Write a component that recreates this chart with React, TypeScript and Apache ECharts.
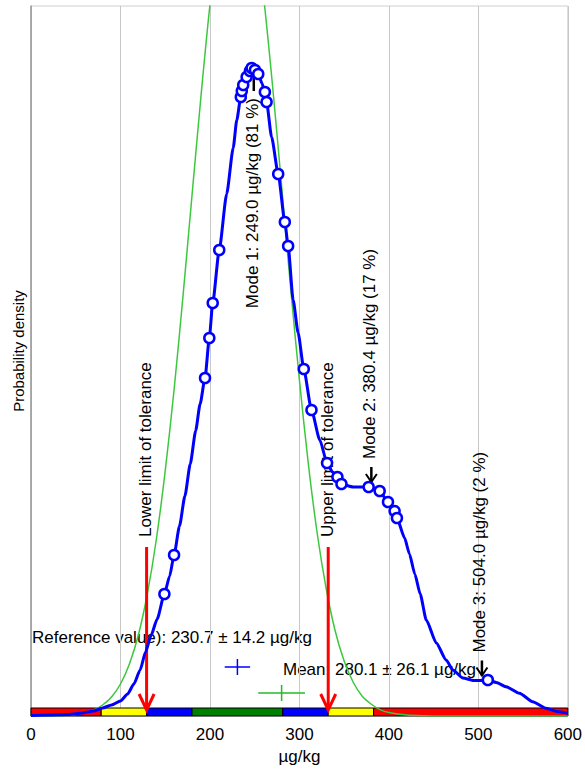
import React, { useEffect, useRef } from "react";
import * as echarts from "echarts";

// ---------- data ----------
const X_MIN = 0;
const X_MAX = 600;
const X_INTERVAL = 100;
const Y_MAX = 7.1; // probability density (arbitrary units, x10^-3)

// kernel density (blue)
const KDE_CURVE: [number, number][] = [
  [0, 0.005], [20, 0.01], [40, 0.015], [55, 0.027], [70, 0.05], [80, 0.08], [90, 0.11],
  [100, 0.15], [108, 0.22], [115, 0.32], [122, 0.46], [128, 0.64], [134, 0.8], [141, 0.97],
  [149.1, 1.22], [155, 1.4], [159.9, 1.61], [166, 1.9], [172, 2.2], [178, 2.52], [184, 2.85],
  [189, 3.12], [194.5, 3.38], [199.3, 3.78], [203.1, 4.13], [210.4, 4.66], [218.7, 5.22],
  [226, 5.68], [230, 5.96], [234.5, 6.19], [235.6, 6.25], [237.2, 6.31], [241, 6.39],
  [244.7, 6.45], [246.6, 6.48], [249, 6.49], [250.3, 6.46], [254, 6.42], [258, 6.33],
  [261.4, 6.24], [263.3, 6.14], [268.9, 5.79], [276.3, 5.42], [283.7, 4.94], [287.4, 4.7],
  [293, 4.16], [298.6, 3.83], [304.9, 3.47], [313.5, 3.06], [322.8, 2.76], [330.9, 2.53],
  [337, 2.44], [342.5, 2.39], [347, 2.32], [360, 2.29], [377.4, 2.29], [389.7, 2.25],
  [399, 2.14], [406.4, 2.05], [409, 1.98], [417.6, 1.78], [423, 1.62], [429, 1.42],
  [435, 1.22], [441.8, 0.96], [453, 0.73], [464, 0.56], [471.5, 0.46], [482.7, 0.38],
  [495, 0.355], [501.3, 0.355], [510.6, 0.36], [520, 0.335], [531, 0.293], [546, 0.227],
  [560.8, 0.143], [575.7, 0.077], [588, 0.045], [600, 0.027],
];

// participants' results (circles on the density curve)
const RESULT_X = [
  149.1, 159.9, 194.5, 199.3, 203.1, 210.4, 234.5, 235.6, 237.2, 241, 244.7, 246.6, 250.3,
  254, 261.4, 263.3, 276.3, 283.7, 287.4, 304.9, 313.5, 330.9, 342.5, 347, 377.4, 389.7,
  399, 406.4, 409, 510.6,
];
const RESULT_Y = [
  1.22, 1.61, 3.38, 3.78, 4.13, 4.66, 6.19, 6.25, 6.31, 6.39, 6.45, 6.48, 6.46,
  6.42, 6.24, 6.14, 5.42, 4.94, 4.7, 3.47, 3.06, 2.53, 2.39, 2.32, 2.29, 2.25,
  2.14, 2.05, 1.98, 0.36,
];

// normal distribution around the reference value (green)
const NORMAL_CURVE: [number, number][] = [
  [0, 0], [20, 0.002], [40, 0.008], [50, 0.016], [60, 0.032], [70, 0.06], [80, 0.11],
  [90, 0.19], [100, 0.32], [110, 0.52], [120, 0.81], [130, 1.22], [140, 1.76], [150, 2.45],
  [160, 3.27], [170, 4.21], [180, 5.21], [190, 6.2], [200, 7.11], [210, 7.84], [220, 8.32],
  [230, 8.5], [240, 8.35], [250, 7.9], [260, 7.19], [270, 6.3], [280, 5.31], [290, 4.3],
  [300, 3.36], [310, 2.52], [320, 1.82], [330, 1.27], [340, 0.85], [350, 0.55], [360, 0.34],
  [370, 0.2], [380, 0.12], [390, 0.064], [400, 0.034], [420, 0.009], [440, 0.002],
  [460, 0], [600, 0],
];

// z-score zones
const ZONE_START = [0, 78.45, 129.2, 179.95, 281.45, 332.2, 382.95];
const ZONE_END = [78.45, 129.2, 179.95, 281.45, 332.2, 382.95, 600];
const ZONE_COLOR = ["#ff0000", "#ffff00", "#0000ff", "#008000", "#0000ff", "#ffff00", "#ff0000"];

// tolerance limits
const TOL_VALUES = [129.2, 332.2];
const TOL_LABELS = ["Lower limit of tolerance", "Upper limit of tolerance"];

// modes
const MODE_VALUES = [249.0, 380.4, 504.0];
const MODE_LEVELS = [6.49, 2.29, 0.355];
const MODE_LABELS = [
  "Mode 1: 249.0 µg/kg (81 %)",
  "Mode 2: 380.4 µg/kg (17 %)",
  "Mode 3: 504.0 µg/kg (2 %)",
];
const MODE_BELOW = [1, 0, 0];

// reference value and mean with uncertainties
const CROSS_CENTER = [230.7, 280.1];
const CROSS_ERR = [14.2, 26.1];
const CROSS_LEVEL = [0.49, 0.23];
const CROSS_COLOR = ["#0000ff", "#22bb22"];

const REF_TEXT = "Reference value): 230.7 ± 14.2 µg/kg";
const MEAN_TEXT = "Mean: 280.1 ± 26.1 µg/kg";
const Y_TITLE = "Probability density";
const X_TITLE = "µg/kg";

const FONT = "'Liberation Sans', Arial, sans-serif";

export default function App() {
  const ref = useRef<HTMLDivElement>(null);

  useEffect(() => {
    if (!ref.current) return;
    const chart = echarts.init(ref.current, undefined, { renderer: "svg" });

    const option: any = {
      animation: false,
      backgroundColor: "#ffffff",
      textStyle: { fontFamily: FONT },
      grid: {
        left: 31,
        right: 17,
        top: 6,
        bottom: 57,
        show: true,
        borderColor: "#cfcfcf",
        borderWidth: 1,
        containLabel: false,
      },
      xAxis: {
        type: "value",
        min: X_MIN,
        max: X_MAX,
        interval: X_INTERVAL,
        axisLine: { show: false },
        axisTick: { show: false },
        axisLabel: { color: "#000", fontSize: 17, margin: 10, fontFamily: FONT },
        splitLine: { show: true, lineStyle: { color: "#c8c8c8", width: 1 } },
        name: X_TITLE,
        nameLocation: "middle",
        nameGap: 30,
        nameTextStyle: { color: "#000", fontSize: 17, fontFamily: FONT },
      },
      yAxis: {
        type: "value",
        min: 0,
        max: Y_MAX,
        axisLine: { show: true, lineStyle: { color: "#9a9a9a", width: 1.5 } },
        axisTick: { show: false },
        axisLabel: { show: false },
        splitLine: { show: false },
      },
      graphic: [
        {
          type: "text",
          x: 18,
          y: 351,
          rotation: Math.PI / 2,
          z: 0,
          style: {
            text: Y_TITLE,
            fill: "#000",
            font: `15px ${FONT}`,
            align: "center",
            verticalAlign: "middle",
          },
        },
        {
          type: "text",
          x: 32,
          y: 637,
          z: 0,
          style: {
            text: REF_TEXT,
            fill: "#000",
            font: `17px ${FONT}`,
            align: "left",
            verticalAlign: "middle",
          },
        },
        {
          type: "text",
          x: 283,
          y: 669,
          z: 0,
          style: {
            text: MEAN_TEXT,
            fill: "#000",
            font: `17px ${FONT}`,
            align: "left",
            verticalAlign: "middle",
          },
        },
      ],
      series: [
        {
          name: "zones",
          type: "custom",
          z: 1,
          data: ZONE_START.map((s, i) => [s, ZONE_END[i], i]),
          encode: { x: [0, 1] },
          renderItem: (_p: any, api: any) => {
            const a = api.coord([api.value(0), 0]);
            const b = api.coord([api.value(1), 0]);
            return {
              type: "rect",
              shape: { x: a[0], y: a[1] - 8, width: b[0] - a[0], height: 8 },
              style: { fill: ZONE_COLOR[api.value(2)], stroke: "#000", lineWidth: 1 },
            };
          },
        },
        {
          name: "normal",
          type: "line",
          z: 2,
          data: NORMAL_CURVE,
          showSymbol: false,
          smooth: 0.3,
          lineStyle: { color: "#3cc83c", width: 1.5 },
        },
        {
          name: "tolerance",
          type: "custom",
          z: 3,
          data: TOL_VALUES.map((v, i) => [v, i]),
          encode: { x: 0 },
          renderItem: (_p: any, api: any) => {
            const p = api.coord([api.value(0), 0]);
            const x = p[0];
            const tip = p[1] - 6;
            const top = tip - 163;
            return {
              type: "group",
              children: [
                {
                  type: "line",
                  shape: { x1: x, y1: top, x2: x, y2: tip - 1 },
                  style: { stroke: "#ff0000", lineWidth: 3 },
                },
                {
                  type: "polyline",
                  shape: { points: [[x - 7.5, tip - 16], [x, tip], [x + 7.5, tip - 16]] },
                  style: { stroke: "#ff0000", lineWidth: 3, fill: null },
                },
                {
                  type: "text",
                  x: x - 1,
                  y: top - 10,
                  rotation: Math.PI / 2,
                  style: {
                    text: TOL_LABELS[api.value(1)],
                    fill: "#000",
                    font: `17px ${FONT}`,
                    align: "left",
                    verticalAlign: "middle",
                  },
                },
              ],
            };
          },
        },
        {
          name: "density",
          type: "line",
          z: 4,
          data: KDE_CURVE,
          showSymbol: false,
          smooth: 0.2,
          smoothMonotone: "x",
          lineStyle: { color: "#0000ff", width: 3 },
        },
        {
          name: "modes",
          type: "custom",
          z: 5,
          data: MODE_VALUES.map((v, i) => [v, MODE_LEVELS[i], i]),
          encode: { x: 0, y: 1 },
          renderItem: (_p: any, api: any) => {
            const i = api.value(2);
            const p = api.coord([api.value(0), api.value(1)]);
            const x = p[0];
            if (MODE_BELOW[i]) {
              const tip = p[1] + 10;
              const bottom = tip + 14;
              return {
                type: "group",
                children: [
                  {
                    type: "line",
                    shape: { x1: x, y1: tip, x2: x, y2: bottom },
                    style: { stroke: "#000", lineWidth: 2.5 },
                  },
                  {
                    type: "text",
                    x: x - 1.5,
                    y: bottom + 7,
                    rotation: Math.PI / 2,
                    style: {
                      text: MODE_LABELS[i],
                      fill: "#000",
                      font: `17px ${FONT}`,
                      align: "right",
                      verticalAlign: "middle",
                    },
                  },
                ],
              };
            }
            const tip = p[1] - 5;
            const top = tip - 15;
            return {
              type: "group",
              children: [
                {
                  type: "line",
                  shape: { x1: x, y1: top, x2: x, y2: tip },
                  style: { stroke: "#000", lineWidth: 2.5 },
                },
                {
                  type: "polyline",
                  shape: { points: [[x - 5.5, tip - 8], [x, tip], [x + 5.5, tip - 8]] },
                  style: { stroke: "#000", lineWidth: 2, fill: null },
                },
                {
                  type: "text",
                  x: x - 2,
                  y: top - 8,
                  rotation: Math.PI / 2,
                  style: {
                    text: MODE_LABELS[i],
                    fill: "#000",
                    font: `17px ${FONT}`,
                    align: "left",
                    verticalAlign: "middle",
                  },
                },
              ],
            };
          },
        },
        {
          name: "results",
          type: "scatter",
          z: 6,
          data: RESULT_X.map((x, i) => [x, RESULT_Y[i]]),
          symbol: "circle",
          symbolSize: 10,
          itemStyle: { color: "#ffffff", borderColor: "#0000ff", borderWidth: 2.5, opacity: 1 },
        },
        {
          name: "crosses",
          type: "custom",
          z: 6,
          data: CROSS_CENTER.map((c, i) => [c, CROSS_LEVEL[i], CROSS_ERR[i], i]),
          encode: { x: 0, y: 1 },
          renderItem: (_p: any, api: any) => {
            const c = api.value(0);
            const y = api.value(1);
            const e = api.value(2);
            const col = CROSS_COLOR[api.value(3)];
            const m = api.coord([c, y]);
            const l = api.coord([c - e, y]);
            const r = api.coord([c + e, y]);
            return {
              type: "group",
              children: [
                {
                  type: "line",
                  shape: { x1: l[0], y1: m[1], x2: r[0], y2: m[1] },
                  style: { stroke: col, lineWidth: 1.5 },
                },
                {
                  type: "line",
                  shape: { x1: m[0], y1: m[1] - 8, x2: m[0], y2: m[1] + 8 },
                  style: { stroke: col, lineWidth: 1.5 },
                },
              ],
            };
          },
        },
      ],
    };

    chart.setOption(option);
    return () => chart.dispose();
  }, []);

  return (
    <div
      ref={ref}
      style={{ position: "absolute", left: 0, top: 0, width: 585, height: 773, background: "#fff" }}
    />
  );
}
